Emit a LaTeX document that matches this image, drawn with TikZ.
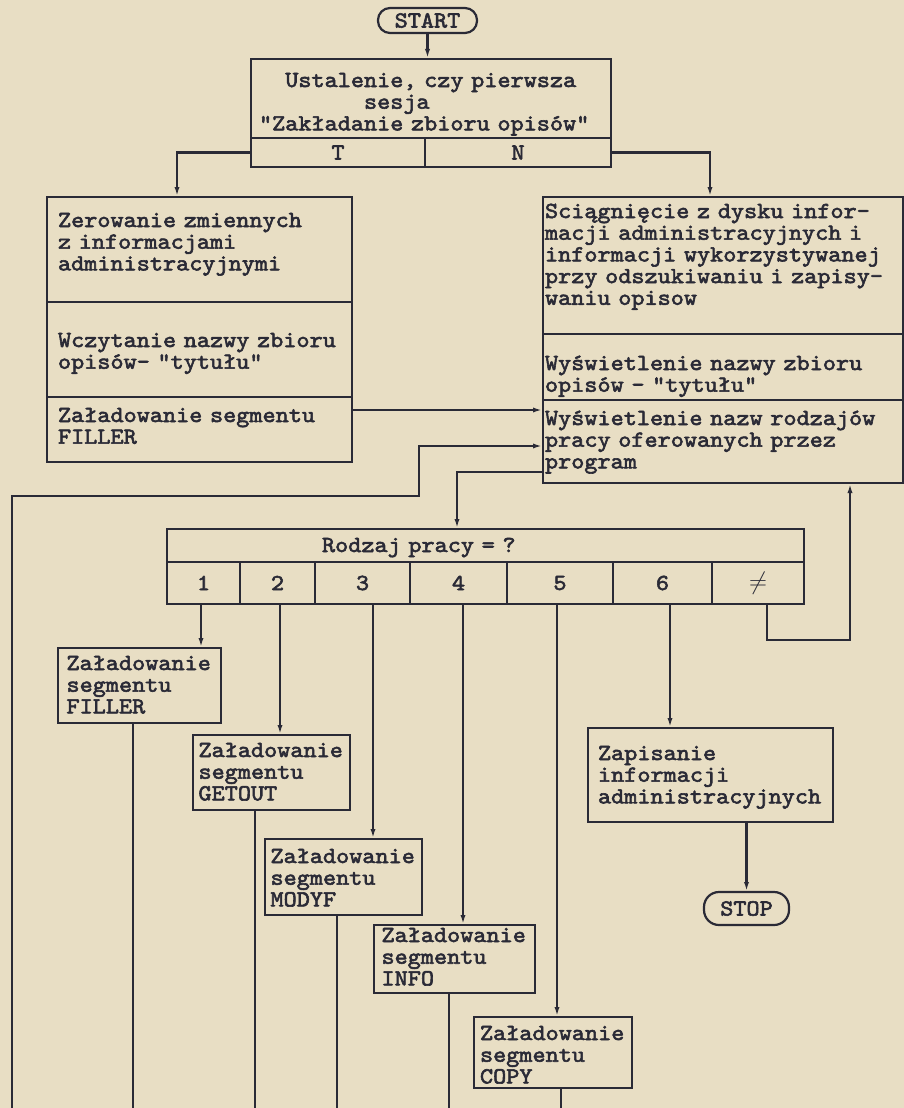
\documentclass[tikz,border=0pt]{standalone}
\usepackage{fontspec}
\usepackage{tikz}
\usetikzlibrary{positioning,arrows.meta}
\usepackage{xcolor}

\newfontfamily\twfam{lmmono10-regular}[Extension=.otf,FakeBold=2.5,FakeStretch=1.087]
\newcommand\twfont{\twfam\fontsize{23}{21.7}\selectfont}
\definecolor{paper}{HTML}{E8DEC4}
\definecolor{ink}{HTML}{2A2A36}

\tikzset{
  box/.style={draw=ink, line width=2.2pt, anchor=north west, align=left,
    inner xsep=11pt, inner ysep=0pt, outer sep=0pt, text=ink, font=\twfont},
  seg/.style={box, text width=146pt},
  cell/.style={draw=ink, line width=2.2pt, anchor=north west, inner sep=0pt,
    outer sep=0pt, text=ink, font=\twfont},
  term/.style={draw=ink, line width=2.2pt, rounded corners=12pt, inner sep=0pt,
    outer sep=0pt, text=ink, font=\twfont},
  flow/.style={draw=ink, line width=2.2pt, -{Latex[length=10pt,width=5pt]}},
  wire/.style={draw=ink, line width=2.2pt}
}

\begin{document}
\begin{tikzpicture}[x=1pt,y=-1pt]
  \useasboundingbox (0,0) rectangle (904,1108);
  \fill[paper] (0,0) rectangle (904,1108);

  % first session test
  \node[term, minimum width=99pt, minimum height=25pt] (start) at (427.5,20.5) {START};
  \node[box, text width=344pt, inner xsep=8pt, text height=28pt, text depth=51pt] (ust) at (251,59)
    {\hspace*{26.25pt}Ustalenie, czy pierwsza\\ \hspace*{105pt}sesja\\ "Zakładanie zbioru opisów"};
  \node[cell, minimum width=174pt, minimum height=29pt, below=0pt of ust.south west, anchor=north west] (cT) {T};
  \node[cell, minimum width=186pt, minimum height=29pt, right=0pt of cT.north east, anchor=north west] (cN) {N};

  % T: new file
  \node[box, text width=283pt, text height=30pt, text depth=75pt] (zer) at (47,197)
    {Zerowanie zmiennych\\ z informacjami\\ administracyjnymi};
  \node[box, text width=283pt, text height=45pt, text depth=50pt, below=0pt of zer.south west, anchor=north west] (wcz)
    {Wczytanie nazwy zbioru\\ opisów- "tytułu"};
  \node[box, text width=283pt, text height=25pt, text depth=40pt, below=0pt of wcz.south west, anchor=north west] (zal)
    {Załadowanie segmentu\\ FILLER};

  % N: read from disk
  \node[box, text width=356pt, inner xsep=2pt, text height=21pt, text depth=116pt] (sci) at (543,197)
    {Sciągnięcie z dysku infor-\\ macji administracyjnych i\\ informacji wykorzystywanej\\ przy odszukiwaniu i zapisy-\\ waniu opisow};
  \node[box, text width=356pt, inner xsep=2pt, text height=36pt, text depth=30pt, below=0pt of sci.south west, anchor=north west] (wys)
    {Wyświetlenie nazwy zbioru\\ opisów - "tytułu"};
  \node[box, text width=356pt, inner xsep=2pt, text height=25pt, text depth=58pt, below=0pt of wys.south west, anchor=north west] (wyr)
    {Wyświetlenie nazw rodzajów\\ pracy oferowanych przez\\ program};

  % choice of work
  \node[box, inner xsep=0pt, text width=637pt, text height=23pt, text depth=10pt] (rodz) at (167,529)
    {\hspace*{155pt}Rodzaj pracy = ?};
  \foreach \t/\a/\b [count=\i] in {1/167/240, 2/240/315, 3/315/410, 4/410/507, 5/507/613, 6/613/712, {$\neq$}/712/804}
    \node[cell, minimum width={\b-\a}, minimum height=42pt] (c\i) at (\a,562) {\t};

  % segments
  \node[seg, inner xsep=8.5pt, text height=22pt, text depth=53pt] (fil) at (58,648) {Załadowanie\\ segmentu\\ FILLER};
  \node[seg, inner xsep=5.5pt, text height=22pt, text depth=53pt] (get) at (193,735) {Załadowanie\\ segmentu\\ GETOUT};
  \node[seg, inner xsep=5.5pt, text height=24pt, text depth=52pt] (mod) at (265,839) {Załadowanie\\ segmentu\\ MODYF};
  \node[seg, inner xsep=7.5pt, text height=17pt, text depth=51pt] (inf) at (374,925) {Załadowanie\\ segmentu\\ INFO};
  \node[seg, inner xsep=6pt, text height=23pt, text depth=48pt] (cop) at (474,1017) {Załadowanie\\ segmentu\\ COPY};
  \node[box, text width=225pt, inner xsep=10pt, text height=32pt, text depth=62pt] (zap) at (588,728)
    {Zapisanie\\ informacji\\ administracyjnych};
  \node[term, minimum width=85pt, minimum height=33pt, rounded corners=15pt] (stop) at (746.5,908.5) {STOP};

  \coordinate (bot) at (0,1108);
  \coordinate (fz) at ([yshift=-13pt]zal.north east);
  \coordinate (lb) at (12,1108);
  \coordinate (lk) at (419,496);
  \coordinate (lj) at (419,446);
  \coordinate (rj) at (457,472);
  \coordinate (nx) at (767,0);
  \coordinate (nk) at (850,640);

  \draw[flow] (start) -- (start |- ust.north);
  \draw[flow] (cT.west) -| ([xshift=130pt]zer.north west);
  \draw[flow] (cN.east) -| ([xshift=167pt]sci.north west);
  \draw[flow] (fz) -- (fz -| wyr.west);
  % return from the segments
  \draw[flow] (lb) |- (lk) -- (lj) -- (lj -| wyr.west);
  \draw[flow] (rj -| wyr.west) -- (rj) -- (rj |- rodz.north);
  \draw[flow] (nx |- c7.south) |- (nk) -- (nk |- wyr.south);

  \foreach \i/\x/\b in {1/201/fil, 2/280/get, 3/373/mod, 4/463/inf, 5/557/cop, 6/670/zap} {
    \coordinate (x\i) at (\x,0);
    \draw[flow] (x\i |- c\i.south) -- (x\i |- \b.north);
  }
  \foreach \b/\x in {fil/133, get/255, mod/337, inf/449, cop/561} {
    \coordinate (o) at (\x,0);
    \draw[wire] (o |- \b.south) -- (o |- bot);
  }
  \draw[flow] (stop |- zap.south) -- (stop);
\end{tikzpicture}
\end{document}
